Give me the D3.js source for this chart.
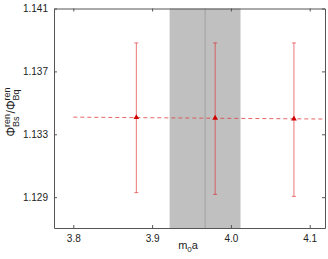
<!DOCTYPE html>
<html><head><meta charset="utf-8">
<script src="https://cdn.jsdelivr.net/npm/d3@7"></script>
<style>body{margin:0;background:#fff}svg{display:block}text{font-family:"Liberation Sans",Arial,sans-serif}</style>
</head><body><div id="c"></div>
<script>
const xs = [3.88, 3.98, 4.08];
const ys = [1.13407, 1.13403, 1.13398];
const errHi = [1.13881, 1.13881, 1.13881];
const errLo = [1.12929, 1.12918, 1.12905];
const fitX = [3.8, 4.1194];
const fitY = [1.13409, 1.13397];
const band = [3.9222, 4.0122];
const bandCenter = 3.9673;
const xTicks = [3.8, 3.9, 4.0, 4.1];
const xTickLabels = ["3.8", "3.9", "4.0", "4.1"];
const yTicks = [1.129, 1.133, 1.137, 1.141];
const yTickLabels = ["1.129", "1.133", "1.137", "1.141"];

(function () {
const W = 328, H = 259;
const m = {l: 54, r: 3, t: 8.5, b: 31};
const svg = d3.select("#c").append("svg").attr("width", W).attr("height", H);
const x = d3.scaleLinear().domain([3.7755, 4.1194]).range([m.l, W - m.r]);
const y = d3.scaleLinear().domain([1.12704, 1.141]).range([H - m.b, m.t]);

svg.append("rect").attr("x", x(band[0])).attr("y", y(1.141))
  .attr("width", x(band[1]) - x(band[0])).attr("height", y(1.12704) - y(1.141))
  .attr("fill", "#c0c0c0");
svg.append("line").attr("x1", x(bandCenter)).attr("x2", x(bandCenter))
  .attr("y1", y(1.141)).attr("y2", y(1.12704)).attr("stroke", "#a0a0a0").attr("stroke-width", 1);

svg.append("line").attr("x1", x(fitX[0])).attr("x2", x(fitX[1]))
  .attr("y1", y(fitY[0])).attr("y2", y(fitY[1]))
  .attr("stroke", "#e04040").attr("stroke-opacity", 0.8).attr("stroke-width", 1)
  .attr("stroke-dasharray", "4,3");

const g = svg.append("g");
xs.forEach((v, i) => {
  const cx = x(v);
  g.append("line").attr("x1", cx).attr("x2", cx).attr("y1", y(errHi[i])).attr("y2", y(errLo[i]))
    .attr("stroke", "#e02020").attr("stroke-opacity", 0.6).attr("stroke-width", 1);
  [errHi[i], errLo[i]].forEach(e => {
    g.append("line").attr("x1", cx - 2).attr("x2", cx + 2).attr("y1", y(e)).attr("y2", y(e))
      .attr("stroke", "#e02020").attr("stroke-opacity", 0.6).attr("stroke-width", 1);
  });
  g.append("path").attr("d", d3.symbol(d3.symbolTriangle, 14)())
    .attr("transform", `translate(${cx},${y(ys[i])})`).attr("fill", "#d00000");
});

const axC = "#555";
const axB = svg.append("g").attr("transform", `translate(0,${H - m.b})`)
  .call(d3.axisBottom(x).tickValues(xTicks).tickFormat((d, i) => xTickLabels[i]).tickSizeInner(-3).tickSizeOuter(0).tickPadding(7));
const axT = svg.append("g").attr("transform", `translate(0,${m.t})`)
  .call(d3.axisTop(x).tickValues(xTicks).tickFormat("").tickSizeInner(-3).tickSizeOuter(0));
const axL = svg.append("g").attr("transform", `translate(${m.l},0)`)
  .call(d3.axisLeft(y).tickValues(yTicks).tickFormat((d, i) => yTickLabels[i]).tickSizeInner(-3).tickSizeOuter(0).tickPadding(6));
const axR = svg.append("g").attr("transform", `translate(${W - m.r},0)`)
  .call(d3.axisRight(y).tickValues(yTicks).tickFormat("").tickSizeInner(-3).tickSizeOuter(0));
[axB, axT, axL, axR].forEach(a => {
  a.selectAll("path").attr("stroke", axC);
  a.selectAll("line").attr("stroke", axC);
  a.selectAll("text").attr("font-size", 10).attr("fill", "#222").attr("font-family", "Liberation Sans, Arial, sans-serif");
});

const xl = svg.append("text").attr("x", 188).attr("y", 249).attr("text-anchor", "middle")
  .attr("font-size", 11).attr("fill", "#222");
xl.append("tspan").text("m");
xl.append("tspan").attr("dy", 3).attr("font-size", 8).text("0");
xl.append("tspan").attr("dy", -3).text("a");

const yl = svg.append("text").attr("transform", "translate(15,112) rotate(-90)")
  .attr("text-anchor", "middle").attr("font-size", 12).attr("fill", "#222");
yl.append("tspan").text("Φ");
yl.append("tspan").attr("dy", -5).attr("font-size", 9).text("ren");
yl.append("tspan").attr("dx", -13).attr("dy", 9).attr("font-size", 9).text("Bs");
yl.append("tspan").attr("dx", 3).attr("dy", -4).text("/Φ");
yl.append("tspan").attr("dy", -5).attr("font-size", 9).text("ren");
yl.append("tspan").attr("dx", -13).attr("dy", 9).attr("font-size", 9).text("Bq");
})();
</script></body></html>
